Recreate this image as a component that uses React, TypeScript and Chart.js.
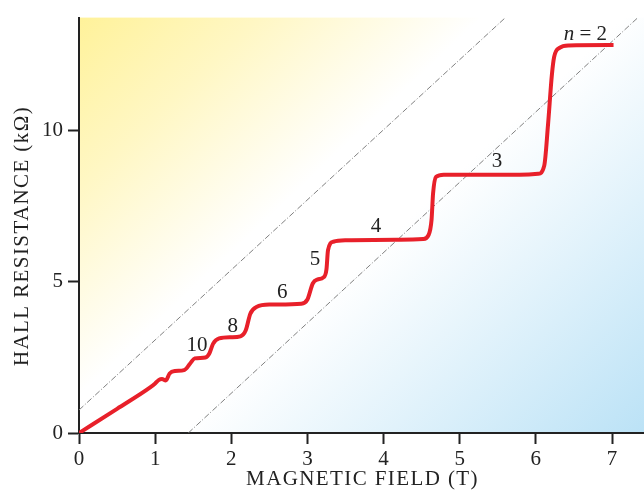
import React, { useEffect, useRef } from "react";
import { Chart, registerables } from "chart.js";

Chart.register(...registerables);

// Magnetic field (T) and Hall resistance (kΩ) along the measured curve
const fieldT = [0, 0.5, 0.93, 1.0, 1.05, 1.09, 1.14, 1.19, 1.26, 1.38, 1.46, 1.52, 1.66, 1.71, 1.76, 1.84, 2.0, 2.12, 2.19, 2.25, 2.33, 2.51, 2.92, 3.0, 3.07, 3.13, 3.21, 3.25, 3.27, 3.34, 3.52, 4.22, 4.52, 4.59, 4.63, 4.65, 4.69, 4.79, 5.79, 6.03, 6.11, 6.16, 6.21, 6.24, 6.31, 6.43, 7.02];
const hallKOhm = [0, 0.8, 1.5, 1.64, 1.76, 1.79, 1.74, 1.97, 2.05, 2.08, 2.3, 2.47, 2.5, 2.62, 2.95, 3.13, 3.17, 3.2, 3.4, 3.95, 4.17, 4.25, 4.28, 4.42, 4.95, 5.08, 5.15, 5.42, 6.05, 6.33, 6.38, 6.4, 6.42, 6.55, 7.06, 7.93, 8.48, 8.55, 8.55, 8.58, 8.85, 10.22, 11.85, 12.45, 12.75, 12.83, 12.84];

// Guide lines (classical Hall lines)
const guideUpperX = [0, 5.6];
const guideUpperY = [0.76, 13.75];
const guideLowerX = [1.435, 7.34];
const guideLowerY = [0, 13.75];

// Plateau labels
const stepLabels = ["10", "8", "6", "5", "4", "3", "2"];
const stepLabelX = [1.55, 2.02, 2.67, 3.1, 3.9, 5.49, 6.65];
const stepLabelY = [2.9, 3.52, 4.66, 5.73, 6.84, 9.0, 13.2];

const xTicks = [0, 1, 2, 3, 4, 5, 6, 7];
const yTicks = [0, 5, 10];
const xMax = 7.42;
const yMax = 13.75;

const FONT = "'Liberation Serif', 'DejaVu Serif', serif";

export default function App() {
  const ref = useRef<HTMLCanvasElement>(null);
  useEffect(() => {
    const canvas = ref.current;
    if (!canvas) return;
    const decor = {
      id: "decor",
      beforeDraw(chart: any) {
        const { ctx, chartArea: a } = chart;
        const w = a.right - a.left;
        const h = a.bottom - a.top;
        // gradient direction perpendicular to the guide lines
        const dx = 1;
        const dy = 1.067;
        const len = Math.hypot(dx, dy);
        const ux = dx / len;
        const uy = dy / len;
        const L = w * ux + h * uy;
        const g = ctx.createLinearGradient(a.left, a.top, a.left + L * ux, a.top + L * uy);
        g.addColorStop(0, "#fff29a");
        g.addColorStop(0.18, "#fff7c4");
        g.addColorStop(0.4, "#ffffff");
        g.addColorStop(0.54, "#ffffff");
        g.addColorStop(1, "#bbe2f6");
        ctx.save();
        ctx.fillStyle = g;
        ctx.fillRect(a.left, a.top, w, h);
        ctx.restore();
      },
      afterDraw(chart: any) {
        const { ctx, chartArea: a } = chart;
        const xs = chart.scales.x;
        const ys = chart.scales.y;
        ctx.save();
        ctx.fillStyle = "#222";
        ctx.textBaseline = "middle";
        ctx.textAlign = "center";
        ctx.font = `21px ${FONT}`;
        stepLabels.forEach((t, i) => {
          const px = xs.getPixelForValue(stepLabelX[i]);
          const py = ys.getPixelForValue(stepLabelY[i]);
          if (t === "2") {
            const italic = `italic 21px ${FONT}`;
            const regular = `21px ${FONT}`;
            ctx.font = italic;
            const wN = ctx.measureText("n").width;
            ctx.font = regular;
            const rest = " = 2";
            const wR = ctx.measureText(rest).width;
            const start = px - (wN + wR) / 2;
            ctx.textAlign = "left";
            ctx.font = italic;
            ctx.fillText("n", start, py);
            ctx.font = regular;
            ctx.fillText(rest, start + wN, py);
            ctx.textAlign = "center";
          } else {
            ctx.fillText(t, px, py);
          }
        });
        // axis titles
        ctx.font = `21px ${FONT}`;
        (ctx as any).letterSpacing = "1.4px";
        ctx.fillText("MAGNETIC FIELD (T)", (a.left + a.right) / 2 + 1, 479);
        ctx.translate(22.5, 236);
        ctx.rotate(-Math.PI / 2);
        ctx.fillText("HALL RESISTANCE (kΩ)", 0, 0);
        ctx.restore();
      },
    };

    const chart = new Chart(canvas, {
      type: "line",
      data: {
        datasets: [
          {
            data: fieldT.map((x, i) => ({ x, y: hallKOhm[i] })),
            borderColor: "#e8202a",
            borderWidth: 4,
            pointRadius: 0,
            cubicInterpolationMode: "monotone",
            borderCapStyle: "butt",
            borderJoinStyle: "round",
          },
          {
            data: guideUpperX.map((x, i) => ({ x, y: guideUpperY[i] })),
            borderColor: "#808080",
            borderWidth: 1,
            borderDash: [6, 2, 1, 2],
            pointRadius: 0,
          },
          {
            data: guideLowerX.map((x, i) => ({ x, y: guideLowerY[i] })),
            borderColor: "#808080",
            borderWidth: 1,
            borderDash: [6, 2, 1, 2],
            pointRadius: 0,
          },
        ],
      },
      options: {
        animation: false,
        responsive: false,
        layout: { padding: { top: 12, right: 0, left: 0, bottom: 0 } },
        plugins: { legend: { display: false }, tooltip: { enabled: false } },
        scales: {
          x: {
            type: "linear",
            min: 0,
            max: xMax,
            afterBuildTicks: (s: any) => {
              s.ticks = xTicks.map((v) => ({ value: v }));
            },
            afterFit: (s: any) => {
              s.height = 63;
            },
            grid: { drawOnChartArea: false, drawTicks: true, tickLength: 11, tickColor: "#222", tickWidth: 2 },
            border: { display: true, color: "#222", width: 2 },
            ticks: { color: "#222", font: { family: FONT, size: 21 }, padding: 3, maxRotation: 0 },
          },
          y: {
            type: "linear",
            min: 0,
            max: yMax,
            afterBuildTicks: (s: any) => {
              s.ticks = yTicks.map((v) => ({ value: v }));
            },
            afterFit: (s: any) => {
              s.width = 79;
            },
            grid: { drawOnChartArea: false, drawTicks: true, tickLength: 11, tickColor: "#222", tickWidth: 2 },
            border: { display: true, color: "#222", width: 2 },
            ticks: { color: "#222", font: { family: FONT, size: 21 }, padding: 5 },
          },
        },
      },
      plugins: [decor],
    } as any);
    return () => chart.destroy();
  }, []);

  return (
    <div style={{ position: "fixed", left: 0, top: 0, width: 644, height: 496, background: "#fff" }}>
      <canvas ref={ref} width={644} height={496} />
    </div>
  );
}
